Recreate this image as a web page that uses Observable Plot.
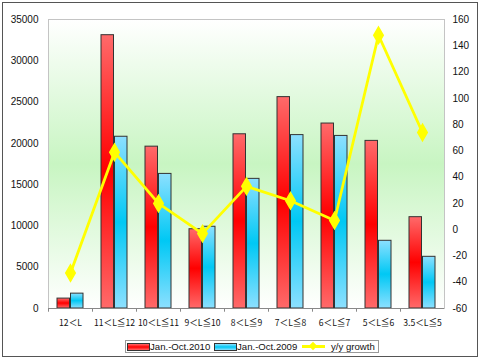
<!DOCTYPE html>
<html><head><meta charset="utf-8">
<script src="https://cdn.jsdelivr.net/npm/d3@7"></script>
<script src="https://cdn.jsdelivr.net/npm/@observablehq/plot@0.6"></script>
<style>
body{margin:0;background:#fff;}
#wrap{position:relative;width:480px;height:359px;overflow:hidden;font-family:"Liberation Sans",Arial,sans-serif;background:#fff;}
#chart{position:absolute;left:0;top:0;}
#border{position:absolute;left:2px;top:2px;width:476px;height:355px;border:1px solid #555;box-sizing:border-box;pointer-events:none;}
#legend{position:absolute;left:125px;top:340px;width:254px;height:13px;border:1px solid #999;box-sizing:border-box;background:#fff;font-size:9.6px;color:#111;}
#legend .sw{position:absolute;top:2px;width:21px;height:6px;border:1px solid #333;}
#legend .tx{position:absolute;top:-1px;white-space:nowrap;line-height:13px;}
</style>
</head><body>
<div id="wrap"><div id="chart"></div><div id="legend"></div><div id="border"></div></div>
<script>
const categories = ["12＜L","11＜L≦12","10＜L≦11","9＜L≦10","8＜L≦9","7＜L≦8","6＜L≦7","5＜L≦6","3.5＜L≦5"];
const sales2010 = [1200,33100,19600,9600,21100,25600,22400,20300,11060];
const sales2009 = [1800,20800,16300,9900,15700,21000,20900,8200,6260];
const growth = [-33,59,20,-3,33,22,7,148,74];
const leftTicks = [0,5000,10000,15000,20000,25000,30000,35000];
const rightTicks = [-60,-40,-20,0,20,40,60,80,100,120,140,160];
const seriesNames = ["Jan.-Oct.2010","Jan.-Oct.2009","y/y growth"];

const yMax = 35000, gMin = -60, gMax = 160;
const toY = v => (v - gMin) / (gMax - gMin) * yMax;
const fromY = y => Math.round(y / yMax * (gMax - gMin) + gMin);

const data = categories.map((c,i)=>({cat:c, a:sales2010[i], b:sales2009[i], g:growth[i]}));

const chart = Plot.plot({
  width: 480, height: 335,
  marginLeft: 48, marginRight: 36, marginTop: 19, marginBottom: 27,
  style: {background:"transparent", fontFamily:"Liberation Sans, Arial, sans-serif", fontSize:"10px", color:"#111"},
  x: {domain: categories, padding: 0, label: null},
  y: {domain: [0, yMax], label: null},
  marks: [
    Plot.frame({fill:"url(#bg)", stroke:"#c4c4c4"}),
    Plot.barY(data, {x:"cat", y:"a", fill:"url(#gRed)", stroke:"#333", strokeWidth:1, insetLeft:9, insetRight:22.5}),
    Plot.barY(data, {x:"cat", y:"b", fill:"url(#gBlue)", stroke:"#333", strokeWidth:1, insetLeft:22.5, insetRight:9}),
    Plot.ruleY([0], {stroke:"#888"}),
    Plot.ruleX(categories, {x: d => d, y1: 0, y2: -450, stroke:"#888", dx: -22}),
    Plot.line(data, {x:"cat", y:d=>toY(d.g), stroke:"#ffff00", strokeWidth:2.8}),
    Plot.dot(data, {x:"cat", y:d=>toY(d.g), symbol:"diamond", fill:"#ffff00", stroke:"#ffff00", r:5}),
    Plot.axisY(leftTicks, {anchor:"left", tickSize:0, tickPadding:10, tickFormat:d=>String(d), fontSize:10}),
    Plot.axisY(rightTicks.map(toY), {anchor:"right", tickSize:0, tickPadding:8, tickFormat:d=>String(fromY(d)), fontSize:10}),
    Plot.axisX({tickSize:0, tickPadding:11, fontSize:8.6, fontFamily:"Noto Sans CJK SC"})
  ]
});
document.getElementById("chart").appendChild(chart);
const svg = chart.tagName.toLowerCase()==="svg" ? chart : chart.querySelector("svg");
const defsDoc = new DOMParser().parseFromString(`<svg xmlns="http://www.w3.org/2000/svg"><defs>
<linearGradient id="bg" x1="0" y1="0" x2="0" y2="1">
 <stop offset="0" stop-color="#ffffff"/><stop offset="0.5" stop-color="#c8f5c2"/><stop offset="1" stop-color="#ffffff"/>
</linearGradient>
<linearGradient id="gRed" x1="0" y1="0" x2="0" y2="1">
 <stop offset="0" stop-color="#ff6a6a"/><stop offset="0.5" stop-color="#ff0000"/><stop offset="1" stop-color="#ff6a6a"/>
</linearGradient>
<linearGradient id="gBlue" x1="0" y1="0" x2="0" y2="1">
 <stop offset="0" stop-color="#8ce0ff"/><stop offset="0.5" stop-color="#00c8f4"/><stop offset="1" stop-color="#8ce0ff"/>
</linearGradient>
</defs></svg>`, "image/svg+xml");
svg.insertBefore(document.importNode(defsDoc.documentElement.firstElementChild, true), svg.firstChild);

const lg = document.getElementById("legend");
lg.innerHTML = `
<div class="sw" style="left:1px;background:linear-gradient(#ff6a6a,#ff0000,#ff6a6a)"></div>
<div class="tx" style="left:24px">${seriesNames[0]}</div>
<div class="sw" style="left:88px;background:linear-gradient(#8ce0ff,#00c8f4,#8ce0ff)"></div>
<div class="tx" style="left:111px">${seriesNames[1]}</div>
<div style="position:absolute;left:176px;top:4px;width:23px;height:3px;background:#ffff00"></div>
<div style="position:absolute;left:184px;top:2px;width:6px;height:6px;background:#ffff00;transform:rotate(45deg)"></div>
<div class="tx" style="left:205px">${seriesNames[2]}</div>`;
</script>
</body></html>
